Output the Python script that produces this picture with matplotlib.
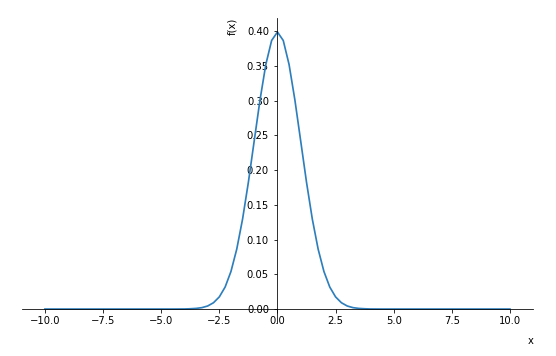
import matplotlib
matplotlib.use('Agg')
import matplotlib.pyplot as plt

# points
x = [-10.0, -6.0, -5.0, -4.5, -4.0, -3.75, -3.5, -3.25, -3.0, -2.75, -2.5, -2.25, -2.0,
     -1.75, -1.5, -1.25, -1.0, -0.75, -0.5, -0.25, 0.0,
     0.25, 0.5, 0.75, 1.0, 1.25, 1.5, 1.75, 2.0, 2.25, 2.5, 2.75, 3.0,
     3.25, 3.5, 3.75, 4.0, 4.5, 5.0, 6.0, 10.0]
fx = [0.0, 0.0, 0.0, 0.0, 0.0001, 0.0004, 0.0009, 0.002, 0.0044, 0.0091, 0.0175, 0.0317, 0.054,
      0.0863, 0.1295, 0.1826, 0.242, 0.3011, 0.3521, 0.3867, 0.3989,
      0.3867, 0.3521, 0.3011, 0.242, 0.1826, 0.1295, 0.0863, 0.054, 0.0317, 0.0175, 0.0091, 0.0044,
      0.002, 0.0009, 0.0004, 0.0001, 0.0, 0.0, 0.0, 0.0]

fig = plt.figure(figsize=(556/72, 356/72), dpi=72)
ax = fig.add_axes([0.039, 0.093, 0.92, 0.856])
ax.plot(x, fx, color='#2e7ebc', lw=1.7)

ax.spines['left'].set_position('zero')
ax.spines['bottom'].set_position('zero')
ax.spines['right'].set_visible(False)
ax.spines['top'].set_visible(False)
ax.set_xticks([-10, -7.5, -5, -2.5, 0, 2.5, 5, 7.5, 10])
ax.set_yticks([0, 0.05, 0.1, 0.15, 0.2, 0.25, 0.3, 0.35, 0.4])
ax.tick_params(axis='y', pad=5)
ax.set_xlabel('x', loc='right', labelpad=10)
ax.set_ylabel('f(x)', loc='top', labelpad=9)

fig.savefig('out.png', dpi=72)
